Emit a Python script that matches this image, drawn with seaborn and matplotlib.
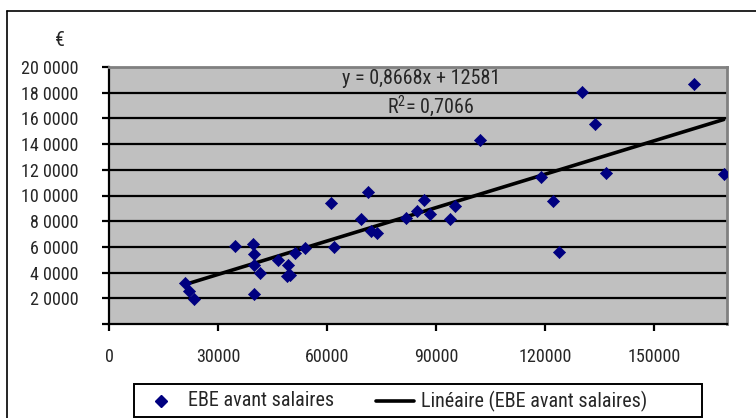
import numpy as np
import pandas as pd
import matplotlib
matplotlib.use("Agg")
import matplotlib.pyplot as plt
from matplotlib.lines import Line2D
from matplotlib.patches import Rectangle
from matplotlib.ticker import FuncFormatter, FixedLocator
import seaborn as sns

# Salaries (x) vs. EBE before salaries (y), in euros
salaires = [20900, 22060, 23350, 34600, 39650, 39800, 39800, 41670, 39900,
            46600, 49260, 48900, 49800, 51300, 54030, 61000, 61900, 69200,
            71230, 72160, 73800, 81600, 84700, 86600, 88370, 93870, 95240,
            102000, 118950, 122240, 123800, 130200, 133700, 136800, 160800,
            169100]
ebe = [31700, 25700, 19450, 61000, 62200, 54200, 45900, 39900, 23600,
       49550, 45660, 37600, 38400, 55000, 58900, 94000, 60000, 81700,
       102900, 72350, 70560, 82700, 87900, 96500, 85300, 81700, 92000,
       142900, 114600, 95900, 56250, 180500, 155400, 117700, 186500,
       116500]

# Linear trend as reported
pente = 0.8668
ordonnee = 12581
r2 = 0.7066

x_ticks = [0, 30000, 60000, 90000, 120000, 150000]
y_ticks = [0, 20000, 40000, 60000, 80000, 100000, 120000, 140000, 160000,
           180000, 200000]

serie = "EBE avant salaires"
tendance = "Linéaire (EBE avant salaires)"

sns.set_style("white")
FONT = ["Roboto Condensed", "Liberation Sans", "DejaVu Sans"]
plt.rcParams["font.family"] = FONT
plt.rcParams["mathtext.fontset"] = "custom"
plt.rcParams["mathtext.rm"] = "Roboto Condensed"
plt.rcParams["mathtext.it"] = "Roboto Condensed"
FS_TICK = 13
FS_TEXT = 14.5

W, H = 756, 418
fig = plt.figure(figsize=(W / 100, H / 100), dpi=100)

def fx(px):
    return px / W

def fy(py):
    return 1 - py / H

# plot area in pixels
L, R, T, B = 109, 727, 67, 324
ax = fig.add_axes([fx(L), fy(B), (R - L) / W, (B - T) / H])
ax.set_facecolor("#C0C0C0")

df = pd.DataFrame({"salaires": salaires, "ebe": ebe})
sns.scatterplot(data=df, x="salaires", y="ebe", marker="D", s=38,
                color="#000080", edgecolor="#000080", linewidth=0.5,
                ax=ax, zorder=4, legend=False)

xs = np.array([min(salaires), max(salaires)])
ax.plot(xs, pente * xs + ordonnee, color="black", lw=2.6, zorder=3)

ax.set_xlim(0, 170000)
ax.set_ylim(0, 200000)
ax.xaxis.set_major_locator(FixedLocator(x_ticks))
ax.yaxis.set_major_locator(FixedLocator(y_ticks))
ax.yaxis.set_major_formatter(
    FuncFormatter(lambda v, p: "" if v == 0 else f"{int(v // 10000)} 0000"))
ax.xaxis.set_major_formatter(FuncFormatter(lambda v, p: f"{int(v)}"))

ax.grid(False)
for yv in y_ticks[1:-1]:
    ax.axhline(yv, color="black", lw=1.6, zorder=1)

for side in ("top", "right"):
    ax.spines[side].set_color("#808080")
    ax.spines[side].set_linewidth(2.0)
for side in ("left", "bottom"):
    ax.spines[side].set_color("black")
    ax.spines[side].set_linewidth(1.6)

ax.tick_params(axis="both", direction="out", length=5, width=1.6,
               color="black", labelsize=FS_TICK, left=True, bottom=True)
ax.tick_params(axis="y", pad=17)
ax.tick_params(axis="x", pad=12)
ax.set_xlabel("")
ax.set_ylabel("")

# equation and R² label
fig.text(fx(421), fy(79), "y = 0,8668x + 12581", ha="center", va="center",
         fontsize=FS_TEXT, family=FONT)
fig.text(fx(431), fy(106), r"R$^{2}$= 0,7066", ha="center", va="center",
         fontsize=FS_TEXT, family=FONT)

# currency unit
fig.text(fx(60), fy(40), "€", ha="center", va="center", fontsize=FS_TEXT,
         family=FONT)

# legend box
fig.add_artist(Rectangle((fx(134), fy(417)), (702 - 134) / W, (417 - 384) / H,
                         transform=fig.transFigure, facecolor="white",
                         edgecolor="black", lw=1.4))
fig.add_artist(Line2D([fx(161)], [fy(401)], marker="D", markersize=6.5,
                      color="#000080", linestyle="none",
                      transform=fig.transFigure))
fig.text(fx(188), fy(401), serie, ha="left", va="center", fontsize=FS_TEXT,
         family=FONT)
fig.add_artist(Line2D([fx(376), fx(414)], [fy(401), fy(401)], color="black",
                      lw=2.6, transform=fig.transFigure))
fig.text(fx(421), fy(401), tendance, ha="left", va="center",
         fontsize=FS_TEXT, family=FONT)

# outer chart border (left and top)
fig.add_artist(Line2D([fx(6.5), fx(6.5)], [0, fy(11)], color="black",
                      lw=1.2, transform=fig.transFigure))
fig.add_artist(Line2D([fx(6.5), 1], [fy(11), fy(11)], color="black",
                      lw=1.2, transform=fig.transFigure))

fig.savefig("out.png", dpi=100)
